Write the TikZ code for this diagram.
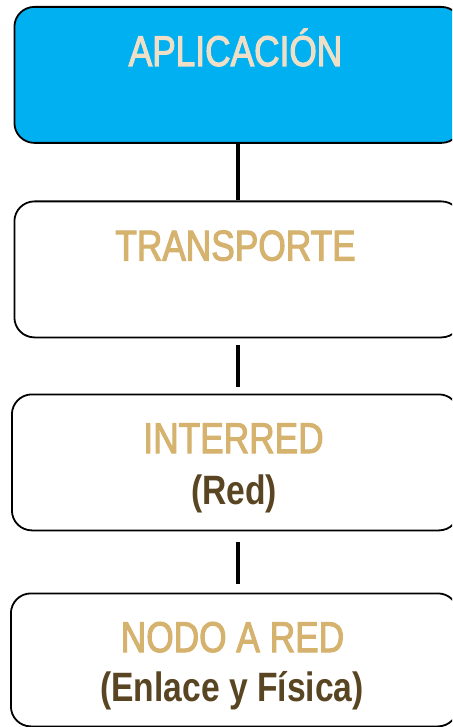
\documentclass[tikz,border=0pt]{standalone}
\usepackage{fontspec}
\setmainfont{Liberation Sans}[FakeStretch=0.82]
\newfontfamily\headfont{Liberation Sans}[FakeStretch=0.82, FakeBold=2.4]
\definecolor{appblue}{HTML}{00B0F0}
\definecolor{paletext}{HTML}{EEDFC6}
\definecolor{goldtext}{HTML}{D5B26E}
\definecolor{browntext}{HTML}{5A4523}
\tikzset{
  layer/.style={draw=black, line width=1.8pt, rounded corners=20pt,
    minimum width=447pt, minimum height=136pt, anchor=north west, inner sep=0pt},
  link/.style={draw=black, line width=4pt},
  title/.style={anchor=base, inner sep=0pt, font=\headfont\fontsize{43}{46}\selectfont},
  subtitle/.style={anchor=base, inner sep=0pt, text=browntext,
    font=\fontsize{41}{44}\selectfont\bfseries}
}
\begin{document}
\begin{tikzpicture}[x=1pt,y=-1pt]
\useasboundingbox (0,0) rectangle (452,727);
\clip (0,0) rectangle (452,727);

% protocol layers
\node[layer, fill=appblue] (aplic) at (13.5,6) {};
\node[layer, fill=white] (transp) at (13.5,200.5) {};
\node[layer, fill=white] (inter) at (11,393.5) {};
\node[layer, fill=white, minimum height=133pt] (nodo) at (10,592.5) {};

% links between layers
\draw[link] (aplic.south) -- (aplic.south |- transp.north);
\draw[link, shorten <=6.5pt, shorten >=6.5pt] (aplic.south |- transp.south) -- (aplic.south |- inter.north);
\draw[link, shorten <=11pt, shorten >=8.5pt] (aplic.south |- inter.south) -- (aplic.south |- nodo.north);

% labels
\node[title, text=paletext] (t1) at (235.5,66) {APLICACIÓN};
\node[title, text=goldtext] (t2) at (235.5,260.5) {TRANSPORTE};
\node[title, text=goldtext] (t3) at (233.5,453) {INTERRED};
\node[subtitle] (s3) at (234,504) {(Red)};
\node[title, text=goldtext] (t4) at (232.5,652) {NODO A RED};
\node[subtitle] (s4) at (232,701.5) {(Enlace y Física)};
\end{tikzpicture}
\end{document}
